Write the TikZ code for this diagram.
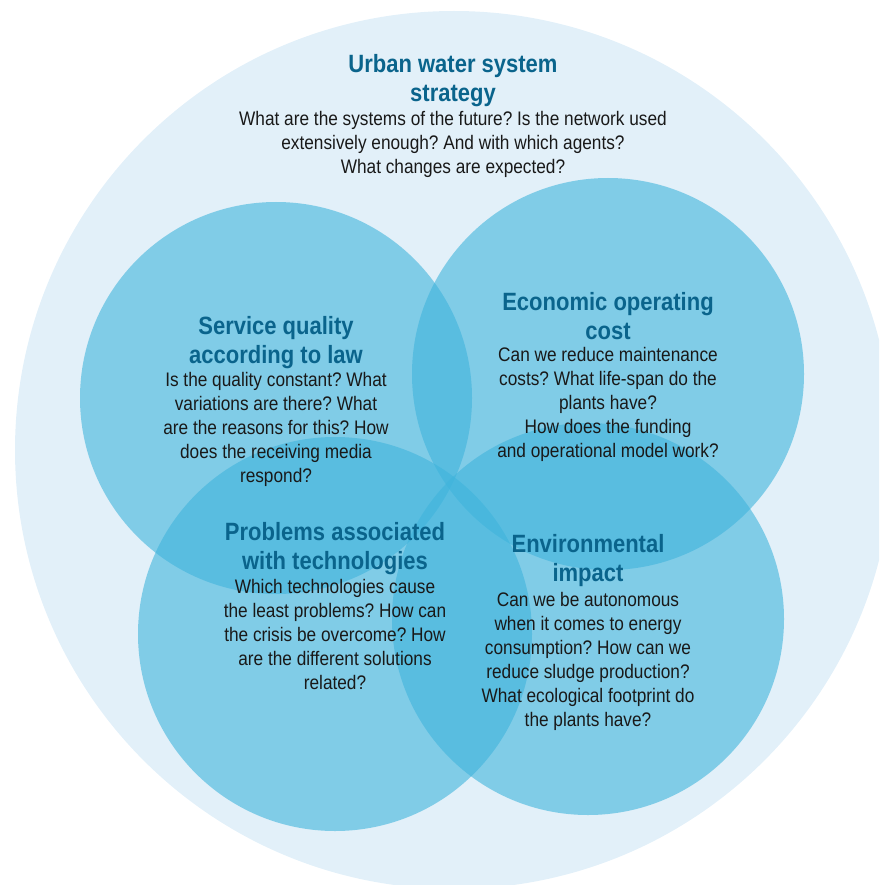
\documentclass[tikz,border=0pt]{standalone}
\usepackage{fontspec}
\setmainfont[FakeStretch=0.88]{Liberation Sans}
\frenchspacing
\definecolor{bgcircle}{RGB}{226,240,249}
\definecolor{circ}{RGB}{63,180,220}
\definecolor{titleblue}{RGB}{10,100,140}
\definecolor{bodytext}{RGB}{25,25,25}
\begin{document}
\begin{tikzpicture}[x=1pt,y=-1pt,
  ring/.style={fill=circ,fill opacity=0.6},
  ttl/.style={anchor=base,align=center,inner sep=0pt,text=titleblue,font=\fontsize{25}{29}\selectfont\bfseries},
  bdy/.style={anchor=base,align=center,inner sep=0pt,text=bodytext,font=\fontsize{19.6}{24}\selectfont\frenchspacing}]
\useasboundingbox (0,0) rectangle (879,885);
\begin{scope}
\clip (0,0) rectangle (879,885);
\fill[bgcircle] (454,450) circle[radius=439pt];
\end{scope}
\fill[ring] (276,398) circle[radius=196pt];
\fill[ring] (608,374) circle[radius=196pt];
\fill[ring] (335,634) circle[radius=197pt];
\fill[ring] (588,619) circle[radius=196pt];

\node[ttl] (t0) at (453,102) {Urban water system\\strategy};
\node[bdy] (b0) at (453,174) {What are the systems of the future? Is the network used\\extensively enough? And with which agents?\\What changes are expected?};

\node[ttl] (t1) at (276,363) {Service quality\\according to law};
\node[bdy] (b1) at (276,482) {Is the quality constant? What\\variations are there? What\\are the reasons for this? How\\does the receiving media\\respond?};

\node[ttl] (t2) at (608,339) {Economic operating\\cost};
\node[bdy] (b2) at (608,457) {Can we reduce maintenance\\costs? What life-span do the\\plants have?\\How does the funding\\and operational model work?};

\node[ttl] (t3) at (335,569) {Problems associated\\with technologies};
\node[bdy] (b3) at (335,689) {Which technologies cause\\the least problems? How can\\the crisis be overcome? How\\are the different solutions\\related?};

\node[ttl] (t4) at (588,581) {Environmental\\impact};
\node[bdy] (b4) at (588,726) {Can we be autonomous\\when it comes to energy\\consumption? How can we\\reduce sludge production?\\What ecological footprint do\\the plants have?};
\end{tikzpicture}
\end{document}
